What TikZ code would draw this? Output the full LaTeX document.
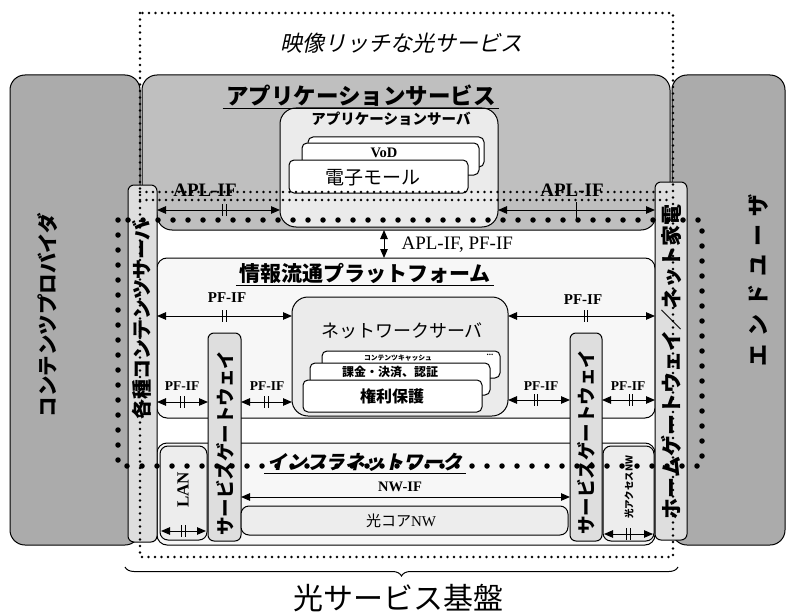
\documentclass[tikz,border=0pt]{standalone}
\usepackage{fontspec}
\setmainfont{Liberation Serif}
\newfontfamily\jp{Noto Sans CJK JP}
\newfontfamily\jpsl[FakeSlant=0.22]{Noto Sans CJK JP}
\usetikzlibrary{arrows.meta,decorations.pathreplacing}
\newcommand\fsz[1]{\fontsize{#1}{#1}\selectfont}
\newcommand\mybox[6]{%
  \pgfmathsetmacro\bxw{#5-#3}%
  \pgfmathsetmacro\bxh{#6-#4}%
  \node[#1,anchor=north west,minimum width=\bxw pt,minimum height=\bxh pt,inner sep=0pt,outer sep=0pt] (#2) at (#3,#4) {};}
\tikzset{
 ln/.style={line width=1pt},
 darkbox/.style={draw, ln, fill=black!33, rounded corners=15pt},
 appbox/.style={draw, ln, fill=black!25, rounded corners=15pt},
 platebox/.style={draw, ln, fill=black!3, rounded corners=10pt},
 stripbox/.style={draw, ln, fill=black!13, rounded corners=6pt},
 litebox/.style={draw, ln, fill=black!7, rounded corners=8pt},
 serverbox/.style={draw, ln, fill=black!8, rounded corners=16pt},
 cardbox/.style={draw, ln, fill=white, rounded corners=5pt},
 smalldots/.style={line width=2.6pt, dash pattern=on 0pt off 6.5pt, line cap=round},
 bigdots/.style={line width=5.5pt, dash pattern=on 0pt off 15pt, line cap=round},
 ifar/.style={ln, {Triangle[length=9pt,width=7.5pt]}-{Triangle[length=9pt,width=7.5pt]}},
 dbar/.pic={\draw[-,ln] (-1.8,-6) -- (-1.8,6) (1.8,-6) -- (1.8,6);},
 onebar/.pic={\draw[-,ln] (0,-8) -- (0,8);},
}
\begin{document}
\begin{tikzpicture}[x=1pt,y=-1pt]
\useasboundingbox (0,0) rectangle (792,615);
\fill[white] (0,0) rectangle (792,615);

% large grey areas
\mybox{darkbox}{cp}{10}{75}{140}{545}
\mybox{darkbox}{eu}{672}{75}{785}{545}
\path[appbox] (142,75) -- (670,75) -- (670,200) -- (656,200) -- (656,230) -- (157,230) -- (157,200) -- (142,200) -- cycle;
\coordinate (appbot) at (384,230);

% platform and infrastructure plates
\mybox{platebox}{ip}{157}{258}{655}{418}
\mybox{platebox}{inf}{157}{443}{655}{545}

% vertical strips
\mybox{stripbox}{cs}{128}{185}{157}{542}
\mybox{stripbox}{hg}{655}{182}{687}{540}
\mybox{stripbox}{sgL}{208}{333}{241}{541}
\mybox{stripbox}{sgR}{570}{333}{602}{541}
\mybox{litebox}{lan}{160}{446}{207}{540}
\mybox{litebox}{oa}{603}{446}{654}{541}
\mybox{litebox}{core}{241}{506}{568}{535}

% application server
\mybox{serverbox}{as}{280}{108}{498}{227}
\mybox{cardbox}{c1}{308}{137}{484}{167}
\mybox{cardbox}{c2}{302}{143}{479}{175}
\mybox{cardbox}{c3}{289}{160}{468}{193}

% network server
\mybox{serverbox}{ns}{292}{297}{508}{416}
\mybox{cardbox}{n1}{322}{351}{500}{378}
\mybox{cardbox}{n2}{310}{363}{490}{395}
\mybox{cardbox}{n3}{303}{380}{482}{412}

% dotted boundaries
\draw[smalldots] (140,13) rectangle (673,557);
\draw[smalldots] (140,192) -- (672,192);
\draw[smalldots] (140,200) -- (672,200);
\draw[bigdots] (118,220) rectangle (702,466);

% interface arrows
\draw[ifar] (cs.east |- 0,210) -- (as.west |- 0,210) pic[pos=0.55]{dbar};
\draw[ifar] (as.east |- 0,210) -- (hg.west |- 0,210) pic[pos=0.5]{onebar};
\draw[ifar] (appbot) -- (appbot |- ip.north);
\draw[ifar] (cs.east |- 0,316) -- (ns.west |- 0,316) pic[pos=0.5]{dbar};
\draw[ifar] (ns.east |- 0,316) -- (hg.west |- 0,316) pic[pos=0.53]{dbar};
\draw[ifar] (cs.east |- 0,402) -- (sgL.west |- 0,402) pic[pos=0.5]{dbar};
\draw[ifar] (sgL.east |- 0,402) -- (ns.west |- 0,402) pic[pos=0.5]{dbar};
\draw[ifar] (ns.east |- 0,400) -- (sgR.west |- 0,400) pic[pos=0.45]{dbar};
\draw[ifar] (sgR.east |- 0,400) -- (hg.west |- 0,400) pic[pos=0.55]{dbar};
\draw[ifar] (sgL.east |- 0,497) -- (sgR.west |- 0,497);
\draw[ifar] ([xshift=1pt]lan.west |- 0,531) -- ([xshift=-1pt]lan.east |- 0,531) pic[pos=0.5]{dbar};
\draw[ifar] ([xshift=1pt]oa.west |- 0,534) -- ([xshift=-1pt]oa.east |- 0,534) pic[pos=0.5]{dbar};

% titles
\node[font=\jpsl\fsz{22}] (tvid) at (401,43) {映像リッチな光サービス};
\node[font=\jp\bfseries\fsz{22.5}] (tapp) at (361,96) {アプリケーションサービス};
\draw[ln] ([yshift=-4pt]tapp.base west) -- ([yshift=-4pt]tapp.base east);
\node[font=\jp\bfseries\fsz{14.5}] (tas) at (391,119) {アプリケーションサーバ};
\node[font=\bfseries\fsz{14.5}] (tvod) at (384,153) {VoD};
\node[font=\jp\fsz{19}] (tmall) at (373,178) {電子モール};
\node[font=\bfseries\fsz{19}] (lapl1) at (205,190) {APL-IF};
\node[font=\bfseries\fsz{19}] (lapl2) at (572,190) {APL-IF};
\node[font=\fsz{19},anchor=west] (lboth) at (398,245) {APL-IF, PF-IF};
\node[font=\jp\bfseries\fsz{21}] (tip) at (365,273) {情報流通プラットフォーム};
\draw[ln] ([yshift=-4pt]tip.base west) -- ([yshift=-4pt]tip.base east);
\node[font=\bfseries\fsz{15}] (lpf1) at (227,298) {PF-IF};
\node[font=\bfseries\fsz{15}] (lpf2) at (583,300) {PF-IF};
\node[font=\bfseries\fsz{13.5}] (lpf3) at (182,386) {PF-IF};
\node[font=\bfseries\fsz{13.5}] (lpf4) at (267,386) {PF-IF};
\node[font=\bfseries\fsz{13.5}] (lpf5) at (541,386) {PF-IF};
\node[font=\bfseries\fsz{13.5}] (lpf6) at (628,386) {PF-IF};
\node[font=\jp\fsz{18}] (tns) at (402,331) {ネットワークサーバ};
\node[font=\jp\bfseries\fsz{6.8}] (tcc) at (398,358) {コンテンツキャッシュ};
\node[font=\bfseries\fsz{9}] (tdots) at (490,355) {...};
\node[font=\jp\bfseries\fsz{12}] (tbill) at (390,372) {課金・決済、認証};
\node[font=\jp\bfseries\fsz{16}] (trights) at (392,396) {権利保護};
\node[font=\jpsl\bfseries\fsz{19.5}] (tinf) at (365,462) {インフラネットワーク};
\draw[ln] ([yshift=-4pt]tinf.base west) -- ([yshift=-4pt]tinf.base east);
\node[font=\bfseries\fsz{14.5}] (lnw) at (400,487) {NW-IF};
\node[font=\fsz{15}] (tcore) at (401,521) {{\jp 光コア}NW};

% rotated labels
\node[font=\jp\bfseries\fsz{20.5},rotate=90] (tcp) at (48,315) {コンテンツプロバイダ};
\node[font=\jp\bfseries\fsz{20},rotate=90] (tcs) at (142,320) {各種コンテンツサーバ};
\node[font=\jp\bfseries\fsz{22},rotate=90] (teu) at (758,280) {エ\kern8ptン\kern8ptド\kern8ptユ\kern8ptー\kern8ptザ};
\node[font=\jp\bfseries\fsz{21},rotate=90] (thg) at (671,362) {ホームゲートウェイ／ネット家電};
\node[font=\jp\bfseries\fsz{18.5},rotate=90] (tsg1) at (225,443) {サービスゲートウェイ};
\node[font=\jp\bfseries\fsz{18.5},rotate=90] (tsg2) at (586,442) {サービスゲートウェイ};
\node[font=\bfseries\fsz{17},rotate=90] (tlan) at (183,490) {LAN};
\node[font=\jp\bfseries\fsz{9.5},rotate=90] (toa) at (629,487) {光アクセスNW};

% brace and caption
\draw[ln, decorate, decoration={brace, mirror, amplitude=9pt}] (125,567) -- (678,567);
\node[font=\jp\fsz{30}] (tbase) at (398,598) {光サービス基盤};
\end{tikzpicture}
\end{document}
